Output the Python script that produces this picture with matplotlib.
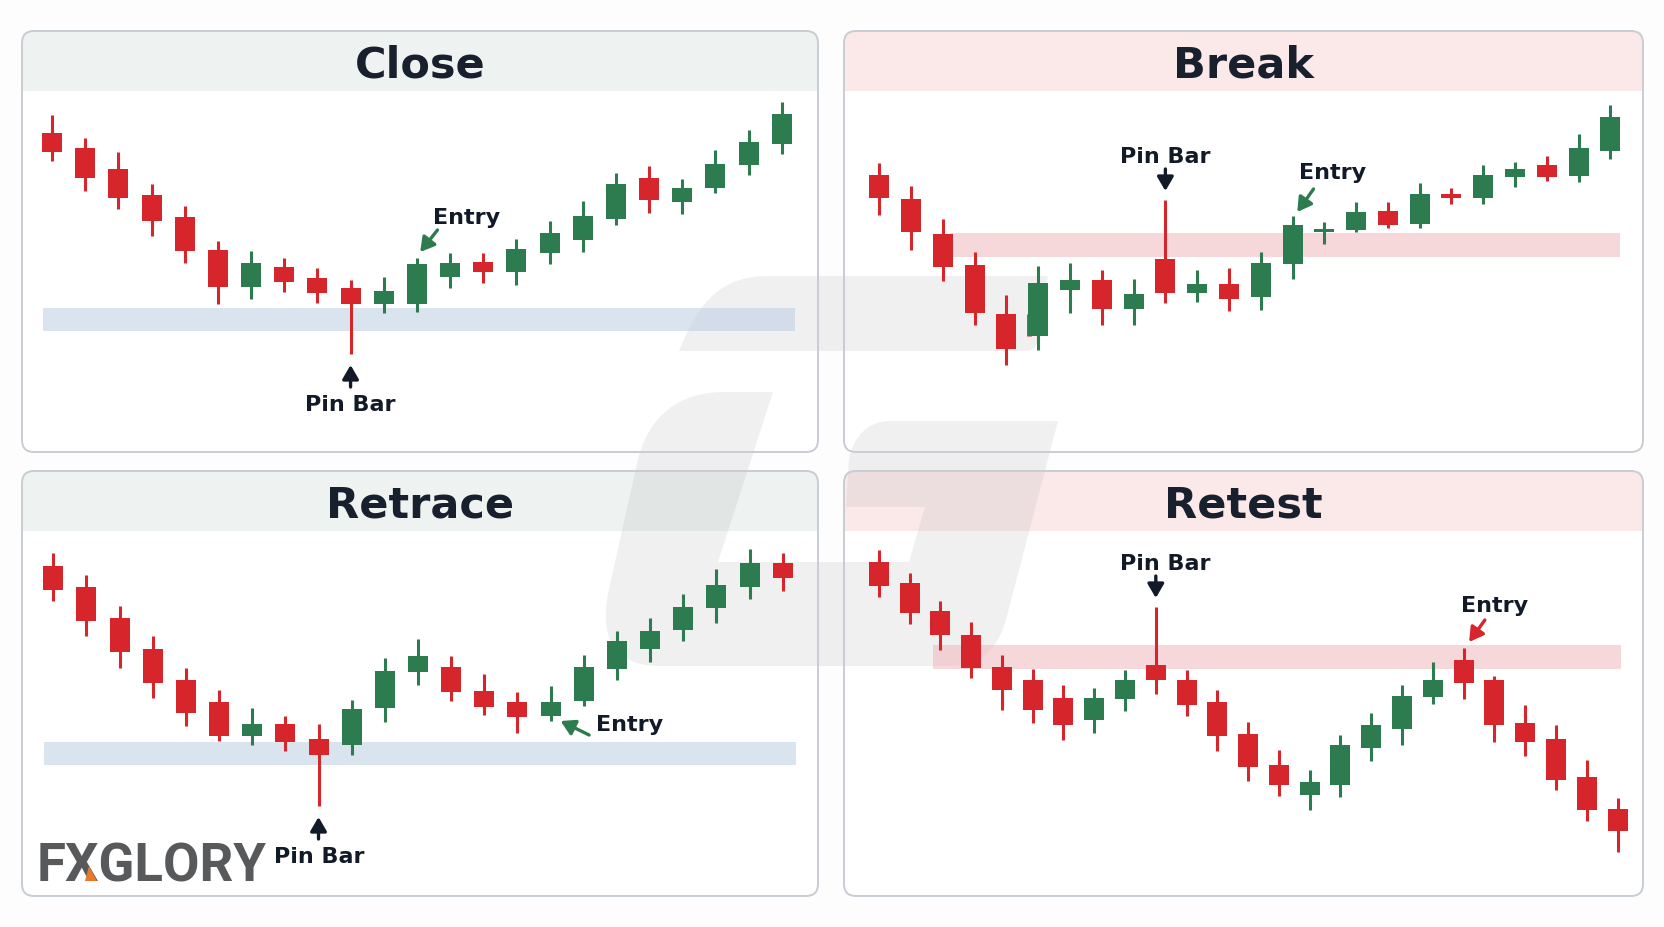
import matplotlib
matplotlib.use('Agg')
import matplotlib.pyplot as plt
from matplotlib.patches import FancyBboxPatch, Rectangle, PathPatch, Polygon
from matplotlib.path import Path
import numpy as np

# ------------------------------------------------------------------ data
titles = ['Close', 'Break', 'Retrace', 'Retest']

close_open  = [326, 311, 290, 264, 242, 209, 172, 192, 181, 171, 155, 155, 182, 197, 187, 206, 219, 240, 281, 257, 271, 294, 315]
close_high  = [344, 321, 307, 275, 253, 218, 208, 201, 191, 179, 182, 201, 206, 206, 220, 238, 258, 286, 293, 280, 309, 329, 357]
close_low   = [298, 268, 250, 223, 196, 155, 160, 167, 156, 105, 146, 147, 171, 176, 174, 195, 207, 234, 246, 245, 266, 284, 305]
close_close = [307, 281, 261, 238, 208, 172, 196, 177, 166, 155, 168, 195, 196, 187, 210, 226, 243, 275, 259, 271, 295, 317, 345]

break_open  = [284, 260, 225, 194, 145, 123, 169, 179, 150, 200, 166, 175, 162, 195, 227, 229, 248, 235, 265, 261, 282, 294, 283, 308]
break_high  = [296, 273, 240, 207, 164, 193, 196, 189, 180, 259, 189, 191, 207, 243, 237, 257, 257, 276, 271, 294, 297, 303, 325, 354]
break_low   = [244, 209, 178, 134, 94, 109, 146, 134, 134, 156, 157, 148, 149, 180, 215, 227, 231, 231, 255, 255, 272, 278, 277, 300]
break_close = [261, 227, 192, 146, 110, 176, 179, 150, 165, 166, 175, 160, 196, 234, 230, 247, 234, 265, 261, 284, 290, 282, 311, 342]
break_thin_slot = [4.7]
break_thin_high = [145]
break_thin_low  = [123]

retrace_open  = [333, 312, 281, 250, 219, 197, 163, 175, 160, 154, 191, 227, 232, 208, 197, 183, 198, 230, 250, 269, 291, 312, 336]
retrace_high  = [346, 324, 293, 263, 231, 209, 191, 183, 175, 199, 241, 260, 243, 225, 207, 213, 244, 268, 281, 305, 330, 350, 346]
retrace_low   = [298, 263, 231, 201, 173, 158, 154, 148, 93, 144, 177, 214, 198, 184, 166, 178, 193, 219, 237, 258, 276, 300, 308]
retrace_close = [309, 278, 247, 216, 186, 163, 175, 157, 144, 190, 228, 243, 207, 192, 182, 197, 232, 258, 268, 292, 314, 336, 321]

retest_open  = [337, 316, 288, 264, 232, 219, 201, 179, 200, 234, 219, 197, 165, 134, 104, 114, 151, 170, 202, 239, 219, 176, 160, 122, 90]
retest_high  = [349, 326, 298, 277, 244, 230, 214, 211, 229, 292, 229, 209, 177, 149, 129, 164, 186, 214, 237, 251, 223, 194, 174, 139, 101]
retest_low   = [302, 275, 249, 221, 189, 176, 159, 166, 188, 205, 183, 148, 118, 103, 89, 102, 138, 154, 195, 200, 157, 143, 109, 78, 47]
retest_close = [313, 286, 264, 231, 209, 189, 174, 201, 219, 219, 194, 163, 132, 114, 117, 154, 174, 203, 219, 216, 174, 157, 119, 89, 68]

# support / resistance zones: (slot from, slot to, price low, price high)
close_zone   = (-0.27, 22.4, 128, 151)
break_zone   = (2.21, 23.3, 202, 226)
retrace_zone = (-0.27, 22.4, 134, 157)
retest_zone  = (1.77, 24.1, 230, 254)

# index of the pin bar and of the entry candle in each panel
pin_index   = [9, 9, 8, 9]
entry_index = [11, 13, 15, 19]

# ------------------------------------------------------------------ style
W, H = 1664, 928
RED = '#d6262c'
GREEN = '#2d7c4f'
DARK = '#111a26'
TITLE = '#17202c'
BLUE_ZONE = '#bccfe3'
PINK_ZONE = '#f0b6bc'

fig = plt.figure(figsize=(W / 100, H / 100), dpi=100)
fig.patch.set_facecolor('#fdfdfd')
bg = fig.add_axes([0, 0, 1, 1])
bg.set_xlim(0, W)
bg.set_ylim(H, 0)
bg.axis('off')
bg.set_zorder(0)

# layout in pixels: box (x, y, w, h), title band colour, crop origin, first/last candle x
layout = [
    dict(box=(22, 32, 796, 421), band='#eef2f0', crop=(20, 30), first=52.1, last=781.7),
    dict(box=(844, 32, 799, 421), band='#fbe9ea', crop=(840, 30), first=879.3, last=1610.4),
    dict(box=(22, 472, 796, 425), band='#eef2f0', crop=(20, 470), first=53.2, last=782.8),
    dict(box=(844, 472, 799, 425), band='#fbe9ea', crop=(840, 470), first=878.8, last=1617.5),
]

series = [
    (close_open, close_high, close_low, close_close, close_zone, BLUE_ZONE),
    (break_open, break_high, break_low, break_close, break_zone, PINK_ZONE),
    (retrace_open, retrace_high, retrace_low, retrace_close, retrace_zone, BLUE_ZONE),
    (retest_open, retest_high, retest_low, retest_close, retest_zone, PINK_ZONE),
]

# panel frames and title bands
for lay, title in zip(layout, titles):
    x, y, w, h = lay['box']
    box = FancyBboxPatch((x, y), w, h, boxstyle='round,pad=0,rounding_size=12',
                         fc='white', ec='none', zorder=1)
    bg.add_patch(box)
    band = Rectangle((x, y), w, 60, fc=lay['band'], ec='none', zorder=2)
    bg.add_patch(band)
    band.set_clip_path(box)
    edge = FancyBboxPatch((x, y), w, h, boxstyle='round,pad=0,rounding_size=12',
                          fc='none', ec='#c8cdd3', lw=1.4, zorder=5)
    bg.add_patch(edge)
    bg.text(x + w / 2, y + 46, title, ha='center', va='baseline', fontsize=31,
            fontweight='bold', color=TITLE, family='DejaVu Sans', zorder=6)

# watermark logo
verts_top = [(679, 352), (700, 300), (722, 277), (770, 277), (1048, 277), (1037, 343),
             (1036, 349), (1032, 352), (1026, 352), (679, 352)]
codes_top = [Path.MOVETO, Path.CURVE4, Path.CURVE4, Path.CURVE4, Path.LINETO, Path.LINETO,
             Path.CURVE4, Path.CURVE4, Path.CURVE4, Path.CLOSEPOLY]
verts_g = [(773, 393), (725, 393), (680, 393), (650, 415), (638, 460), (609, 590),
           (598, 640), (615, 667), (660, 667), (950, 667), (985, 667), (1000, 645), (1007, 617),
           (1058, 422), (890, 422), (868, 422), (853, 438), (849, 460), (846, 508), (925, 508),
           (909, 563), (718, 563), (773, 393)]
codes_g = [Path.MOVETO, Path.LINETO, Path.CURVE4, Path.CURVE4, Path.CURVE4, Path.LINETO,
           Path.CURVE4, Path.CURVE4, Path.CURVE4, Path.LINETO, Path.CURVE4, Path.CURVE4, Path.CURVE4,
           Path.LINETO, Path.LINETO, Path.CURVE4, Path.CURVE4, Path.CURVE4, Path.LINETO, Path.LINETO,
           Path.LINETO, Path.LINETO, Path.CLOSEPOLY]
for v, c in ((verts_top, codes_top), (verts_g, codes_g)):
    bg.add_patch(PathPatch(Path(v, c), fc='#8c8f94', ec='none', alpha=0.13, zorder=3))

# brand mark
bg.text(37, 882, 'FXGLORY', ha='left', va='baseline', fontsize=38, fontweight='bold',
        family=['Roboto', 'DejaVu Sans'], color='#58595b', zorder=6)
bg.add_patch(Polygon([(85, 882), (97, 882), (89, 867)], closed=True, fc='#e8782a', ec='none', zorder=7))

# candle panels
arrow_kw = dict(arrowstyle='-|>,head_length=0.6,head_width=0.35', shrinkA=0, shrinkB=0,
                mutation_scale=14, lw=2.4)
lab_kw = dict(fontsize=16, fontweight='bold', color=DARK, family='DejaVu Sans', zorder=7)

axes = []
for k, (lay, ser) in enumerate(zip(layout, series)):
    O, Hh, L, C, zone, zcol = ser
    O, Hh, L, C = map(np.asarray, (O, Hh, L, C))
    n = len(O)
    cx0, cy0 = lay['crop']
    step = (lay['last'] - lay['first']) / (n - 1)
    ax = fig.add_axes([cx0 / W, 1 - (cy0 + 430) / H, 800 / W, 430 / H])
    ax.set_zorder(2)
    ax.patch.set_visible(False)
    ax.axis('off')
    ax.set_xlim((cx0 - lay['first']) / step, (cx0 + 800 - lay['first']) / step)
    ax.set_ylim(0, 430)

    z0, z1, zlo, zhi = zone
    ax.add_patch(Rectangle((z0, zlo), z1 - z0, zhi - zlo, fc=zcol, ec='none', alpha=0.55, zorder=1))

    x = np.arange(n)
    up = C >= O
    cols = np.where(up, GREEN, RED)
    ax.vlines(x, L, Hh, colors=cols, lw=2.2, zorder=3)
    ax.bar(x, np.maximum(np.abs(C - O), 2), bottom=np.minimum(O, C), width=20 / step,
           color=cols, zorder=4)
    if k == 1:
        ax.vlines(break_thin_slot, break_thin_low, break_thin_high, colors=RED, lw=3.4, zorder=3)

    p = pin_index[k]
    e = entry_index[k]
    if k in (0, 2):
        # pin bar below, arrow pointing up
        ax.annotate('', xy=(p, L[p] - 11), xytext=(p, L[p] - 33),
                    arrowprops=dict(color=DARK, **arrow_kw), zorder=7)
        lx = p + (0.02 if k == 2 else 0)
        ax.text(lx, L[p] - 50, 'Pin Bar', ha='center', va='center', **lab_kw)
    else:
        ax.annotate('', xy=(p, Hh[p] + 9), xytext=(p, Hh[p] + 31),
                    arrowprops=dict(color=DARK, **arrow_kw), zorder=7)
        ax.text(p + (0.3 if k == 3 else 0), Hh[p] + 44, 'Pin Bar', ha='center', va='center', **lab_kw)

    if k == 0:
        ax.annotate('', xy=(e + 0.1, Hh[e] + 6), xytext=(e + 0.62, Hh[e] + 28),
                    arrowprops=dict(color=GREEN, **arrow_kw), zorder=7)
        ax.text(e + 1.5, Hh[e] + 41, 'Entry', ha='center', va='center', **lab_kw)
    elif k == 1:
        ax.annotate('', xy=(e + 0.15, Hh[e] + 4), xytext=(e + 0.66, Hh[e] + 27),
                    arrowprops=dict(color=GREEN, **arrow_kw), zorder=7)
        ax.text(e + 1.26, Hh[e] + 44, 'Entry', ha='center', va='center', **lab_kw)
    elif k == 2:
        ax.annotate('', xy=(e + 0.3, L[e] + 0), xytext=(e + 1.16, L[e] - 14),
                    arrowprops=dict(color=GREEN, **arrow_kw), zorder=7)
        ax.text(e + 1.38, L[e] - 3, 'Entry', ha='left', va='center', **lab_kw)
    else:
        ax.annotate('', xy=(e + 0.18, Hh[e] + 6), xytext=(e + 0.69, Hh[e] + 28),
                    arrowprops=dict(color=RED, **arrow_kw), zorder=7)
        ax.text(e + 1.0, Hh[e] + 43, 'Entry', ha='center', va='center', **lab_kw)
    axes.append(ax)

fig.savefig('out.png', dpi=100, facecolor=fig.get_facecolor())
